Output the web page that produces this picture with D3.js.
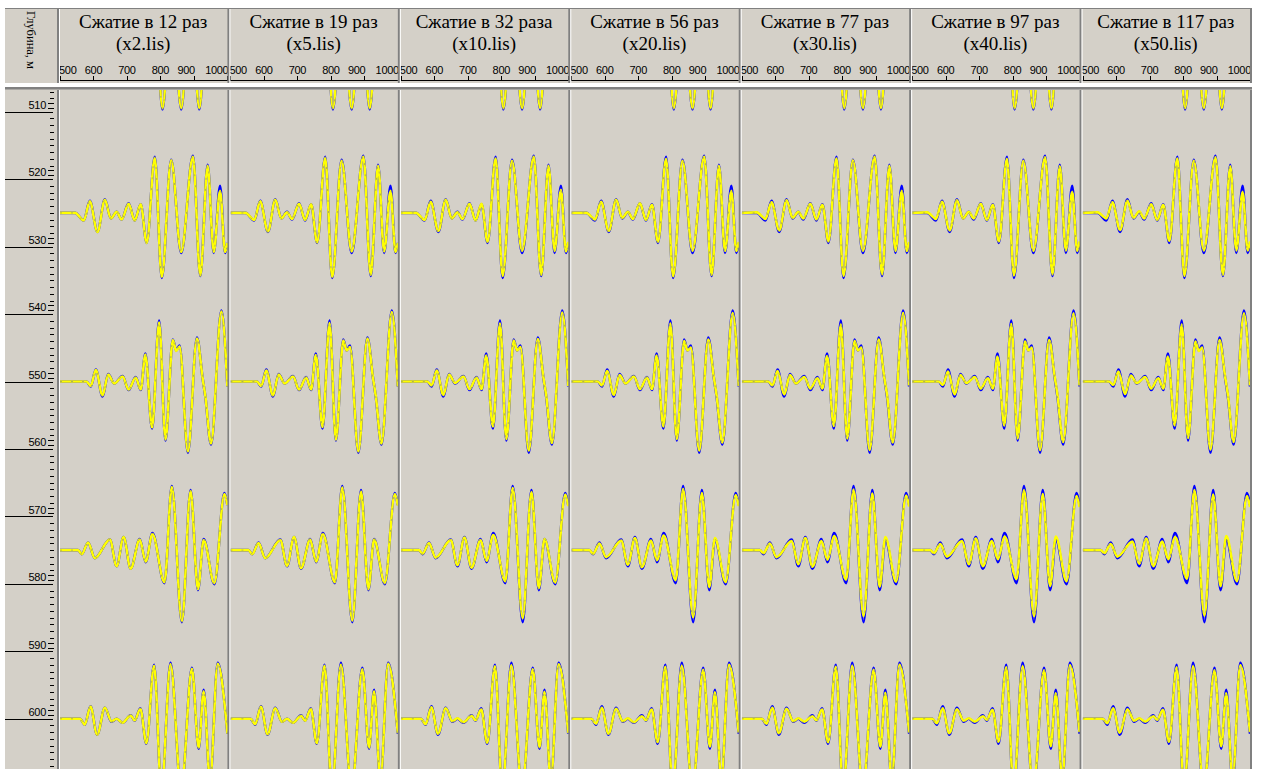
<!DOCTYPE html>
<html><head><meta charset="utf-8">
<script src="https://cdn.jsdelivr.net/npm/d3@7"></script>
<style>body{margin:0;background:#fff;} svg{display:block;}</style>
</head><body><svg id="c" width="1267" height="769"></svg>
<script>
// ---------- DATA ----------
const panelTitles = ["Сжатие в 12 раз","Сжатие в 19 раз","Сжатие в 32 раза","Сжатие в 56 раз","Сжатие в 77 раз","Сжатие в 97 раз","Сжатие в 117 раз"];
const panelFiles = ["(x2.lis)","(x5.lis)","(x10.lis)","(x20.lis)","(x30.lis)","(x40.lis)","(x50.lis)"];
const timeTicks = [500,600,700,800,900,1000];
const depthTicks = [510,520,530,540,550,560,570,580,590,600];
const depthLabel = "Глубина, м";
const traceDepths = [501,526,551,576,601];

// trace at 501 m (only its lower lobes are visible)
const times0 = [500,759,783,806,834,862,890,916,940,958,980,1000];
const blue0  = [0,-30,50,-65,55,-65,55,-65,45,-38,20,-30];
const yellow0 = [0,-30,50,-64,55,-64,55,-64,45,-38,20,-30];

// trace at 526 m
const times1 = [500,545,571,589,612,634,652,669,684,705,723,741,759,783,804,832,862,897,919,941,959,978,993,1000];
const blue1  = [0,0,-7.5,12,-19,13.5,-5.5,1,-6.5,9.5,-7.5,8.5,-30,56,-65,53,-40,57,-63,48,-40,27,-40,-30];
const yellow1 = [
 [0,0,-7.5,11.5,-19,13,-5.5,1,-6.5,9,-7.5,8.5,-30,55,-64,52.5,-39,56,-62.5,47,-39,22,-39,-30],
 [0,0,-7,11.5,-18.5,13,-5.5,0.5,-6,9,-7,8.5,-29.5,55,-64,52,-38.5,56,-62,47,-38.5,22,-39,-30],
 [0,0,-7,11,-18,13,-5.5,0.5,-6,9,-7.5,9,-29,54.5,-63,52,-38,56,-62,47,-38,23,-38.5,-29],
 [0,0,-6.5,11,-18,13,-5,1,-6,9.5,-7,8,-29,54,-63.5,52,-38,56,-62,47,-38,22,-38,-29],
 [0,0.5,-6,10.5,-17.5,12.5,-5,1,-5.5,9,-6.5,8,-28.5,54.5,-63,52.5,-38,56,-61.5,47,-38,22,-38,-29],
 [0,0.5,-6,11,-17.5,12.5,-5.5,1,-5.5,9,-7,8,-28.5,54,-62.5,52,-38,55.5,-61.5,46.5,-37.5,21,-38,-28.5],
 [0,0.5,-5.5,10.5,-17,12,-5,1.5,-5.5,8.5,-7,8,-28,54.5,-63,52,-37.5,55.5,-62,46.5,-37.5,21,-37.5,-28.5]
];

// trace at 551 m
const times2 = [500,579,592,607,627,644,662,687,705,726,741,755,775,796,815,837,847,857,882,909,926,934,951,982,1000];
const blue2  = [0,0,-5,12,-15,7.5,-2,5.5,-8.5,4.5,-8.5,28,-47,61,-59,42,31,36,-71,44,3,-15,-63,71,-5];
const yellow2 = [
 [0,0,-4.5,11.5,-14,7,-2,5,-8,4,-8,27,-46,59,-58,41.5,30.5,35,-70,43,3,-14.5,-62,70,-5],
 [0,0,-4.5,11,-14,7,-2,5,-8,4,-8,26.5,-45.5,58.5,-58,41,31,34.5,-70,43,3,-14.5,-62,69.5,-5],
 [0,0,-4,11,-13.5,7,-1.5,5,-7.5,4,-7.5,26,-45,58,-57.5,41,31,34.5,-69,42.5,3.5,-14,-61.5,69,-4.5],
 [0,0,-4,10.5,-13.5,6.5,-2,5,-7.5,4,-7.5,26,-45,58,-57.5,40.5,31,34,-69,42,3.5,-14,-61,68.5,-4.5],
 [0,0,-4,10.5,-13,6.5,-2,4.5,-7,3.5,-7,25.5,-44.5,57,-57,40.5,31,34,-68.5,42,3.5,-13.5,-61,68.5,-4],
 [0,0,-3.5,10,-13,6.5,-1.5,4.5,-7,3.5,-7,25,-44,57.5,-57,40,31,34,-68.5,41.5,4,-13.5,-60.5,68,-4],
 [0,0,-3.5,10,-12.5,6,-1.5,4.5,-7,3.5,-7,25,-44,57,-56.5,40,30.5,34,-68,41.5,4,-13.5,-60.5,68,-4]
];

// trace at 576 m
const times3 = [500,554,565,584,604,649,669,690,711,738,756,776,812,834,864,890,912,929,961,991,1000];
const blue3  = [0,0,-4,7.5,-8,10.5,-16,13,-18.5,11,-12,17,-33,64,-72,60,-40,11,-34,57,45];
const yellow3 = [
 [0,0,-4,7.5,-8,10.5,-16,13,-18.5,10.5,-11.5,16,-32,63,-71,59,-39,10,-33,56,45],
 [0,0,-4,7,-8,10,-15.5,13,-18,10.5,-11.5,16,-32,62.5,-70.5,58.5,-39,10.5,-33,56,44.5],
 [0,0,-3.5,7,-7.5,10,-15,12.5,-17.5,10,-10.5,15,-31,62,-68,58,-38,11,-32.5,55.5,44],
 [0,0,-3.5,6.5,-7,9.5,-14.5,12,-17,9.5,-10,14.5,-30,61,-67,57,-37,12,-32,55,44],
 [0,0,-3,6.5,-7,9,-14,12,-16.5,9,-9.5,14,-29.5,60.5,-66,56.5,-36.5,13,-31.5,54.5,43.5],
 [0,0,-3,6,-6.5,9,-14,11.5,-16,9,-9,13.5,-29,60,-66,56,-36,13.5,-31,54,43],
 [0,0,-3,6,-6.5,8.5,-13.5,11.5,-16,8.5,-9,13,-28.5,60,-65.5,55.5,-36,14,-31,54,43]
];

// trace at 601 m
const times4 = [500,560,574,591,611,634,654,669,687,711,723,740,758,781,803,830,862,894,914,929,948,971,1000];
const blue4  = [0,0,-6,12.5,-16,11,-3,0,-4,3.5,-2,10.5,-25,54,-72,56,-72,51,-30,29,-62,56,-15];
const yellow4 = [
 [0,0,-6,12.3,-16,11,-2.7,0,-4,3.3,-1.7,10,-24.5,53,-71,54.5,-71,50,-29,27.5,-61,55,-15],
 [0,0,-5.5,12,-15.5,10.5,-3,0,-4,3,-2,10,-24.5,53,-71,54,-71,49.5,-29,27.5,-61,55,-14.5],
 [0,0,-5.5,11.5,-15,10.5,-2.5,0.5,-3.5,3,-1.5,9.5,-24,52.5,-70,53.5,-70,49.5,-28.5,27,-60.5,54.5,-14.5],
 [0,0,-5,11,-15,10,-2.5,0.5,-3.5,2.5,-1.5,9.5,-23.5,52,-70,53,-70,49,-28,26.5,-60,54,-14],
 [0,0,-5,11,-14.5,10,-2.5,0.5,-3,2.5,-1.5,9.5,-23.5,52,-69.5,53,-69.5,49,-28,26,-60,54,-14],
 [0,0,-4.5,10.5,-14.5,9.5,-2,0.5,-3,2.5,-1,9,-23,51.5,-69,52.5,-69,48.5,-27.5,25.5,-59.5,53.5,-13.5],
 [0,0,-4.5,10.5,-14,9.5,-2,0.5,-3,2.5,-1,9,-23,51.5,-69,52.5,-69,48.5,-27.5,25.5,-59.5,53.5,-13.5]
];

// ---------- LAYOUT ----------
const W = 1267, H = 769;
const GREY = "#d4d0c8", DARK = "#808080";
const plotTop = 90, headerTop = 8;
const svg = d3.select("#c");

const traces = [
  {depth: traceDepths[0], times: times0, blue: blue0, yellow: panelTitles.map(() => yellow0)},
  {depth: traceDepths[1], times: times1, blue: blue1, yellow: yellow1},
  {depth: traceDepths[2], times: times2, blue: blue2, yellow: yellow2},
  {depth: traceDepths[3], times: times3, blue: blue3, yellow: yellow3},
  {depth: traceDepths[4], times: times4, blue: blue4, yellow: yellow4}
];

const band = d3.scaleBand().domain(d3.range(panelTitles.length)).range([58, 1251]).paddingInner(0).paddingOuter(0);
const bw = band.bandwidth();
const yScale = d3.scaleLinear().domain([510, 600]).range([105, 712]);
const ampScale = d3.scaleLinear().domain([-100, 100]).range([100, -100]);

// backgrounds
svg.append("rect").attr("width", W).attr("height", H).attr("fill", "#fff");
svg.append("rect").attr("x", 5).attr("y", headerTop).attr("width", 1252 - 5).attr("height", H - headerTop).attr("fill", GREY);
svg.append("line").attr("x1", 5).attr("x2", 1252).attr("y1", headerTop + 0.5).attr("y2", headerTop + 0.5).attr("stroke", DARK);
svg.append("rect").attr("x", 5).attr("y", 83).attr("width", 1247).attr("height", 4).attr("fill", "#fff");
svg.append("rect").attr("x", 5).attr("y", 87).attr("width", 1247).attr("height", 2.5).attr("fill", DARK);

const defs = svg.append("defs");
panelTitles.forEach((t, p) => {
  defs.append("clipPath").attr("id", "clip" + p).append("rect")
    .attr("x", band(p)).attr("y", plotTop).attr("width", bw).attr("height", H - plotTop);
});

// header panels
const head = svg.append("g");
panelTitles.forEach((t, p) => {
  const cx = band(p) + bw / 2;
  head.append("text").attr("x", cx).attr("y", 28).attr("text-anchor", "middle")
    .attr("font-family", "'Liberation Serif','Times New Roman',serif").attr("font-size", 19).attr("fill", "#000").text(t);
  head.append("text").attr("x", cx).attr("y", 50).attr("text-anchor", "middle")
    .attr("font-family", "'Liberation Serif','Times New Roman',serif").attr("font-size", 19).attr("fill", "#000").text(panelFiles[p]);
  const xs = d3.scaleLinear().domain([500, 1000]).range([band(p) + 2, band(p) + bw - 1]);
  const ax = head.append("g");
  ax.append("line").attr("x1", xs(500)).attr("x2", xs(1000)).attr("y1", 80.5).attr("y2", 80.5).attr("stroke", "#000");
  timeTicks.forEach(v => {
    ax.append("line").attr("x1", Math.round(xs(v)) + 0.5).attr("x2", Math.round(xs(v)) + 0.5)
      .attr("y1", 76).attr("y2", 81).attr("stroke", "#000");
    const anchor = v === 500 ? "start" : (v >= 900 ? "end" : "middle");
    const lx = v === 500 ? xs(v) - 1 : (v >= 900 ? xs(v) + 1 : xs(v));
    ax.append("text").attr("x", lx).attr("y", 74).attr("text-anchor", anchor)
      .attr("font-family", "'Liberation Sans',Arial,sans-serif").attr("font-size", 11)
      .attr("letter-spacing", "-0.3").attr("fill", "#000").text(v);
  });
});

const seps = band.domain().map(p => band(p)).concat([band(panelTitles.length - 1) + bw]);
seps.forEach(x => {
  svg.append("rect").attr("x", x - 1).attr("y", headerTop).attr("width", 2).attr("height", 83 - headerTop).attr("fill", DARK);
  svg.append("rect").attr("x", x + 1).attr("y", headerTop + 1).attr("width", 1).attr("height", 82 - headerTop).attr("fill", "#fff");
});

svg.append("text").attr("transform", "translate(27,40) rotate(90)").attr("text-anchor", "middle")
  .attr("font-family", "'Liberation Serif','Times New Roman',serif").attr("font-size", 12.5).attr("fill", "#000").text(depthLabel);

// left depth axis
const la = svg.append("g");
const minor = d3.range(502, 610, 1).filter(d => (d % 10) >= 2);
minor.forEach(d => {
  const y = Math.round(yScale(d)) + 0.5;
  if (y > plotTop && y < H) la.append("line").attr("x1", 50).attr("x2", 54).attr("y1", y).attr("y2", y).attr("stroke", "#000");
});
depthTicks.forEach(d => {
  const y = yScale(d);
  la.append("text").attr("x", 46).attr("y", y + 4).attr("text-anchor", "end")
    .attr("font-family", "'Liberation Sans',Arial,sans-serif").attr("font-size", 11)
    .attr("letter-spacing", "-0.3").attr("fill", "#000").text(d);
  [-2, 3].forEach(o => la.append("line").attr("x1", 48).attr("x2", 54)
    .attr("y1", Math.round(y + o) + 0.5).attr("y2", Math.round(y + o) + 0.5).attr("stroke", "#000"));
  const yl = Math.round(yScale(d + 1)) + 0.5;
  la.append("line").attr("x1", 5).attr("x2", 53).attr("y1", yl).attr("y2", yl).attr("stroke", "#000");
});

// traces
const plots = svg.append("g");
panelTitles.forEach((t, p) => {
  const xs = d3.scaleLinear().domain([500, 1000]).range([band(p) + 2, band(p) + bw - 1]);
  const g = plots.append("g").attr("clip-path", `url(#clip${p})`);
  traces.forEach(tr => {
    const base = yScale(tr.depth);
    const line = d3.line().x(d => xs(d[0])).y(d => base + ampScale(d[1])).curve(d3.curveMonotoneX);
    const bData = tr.times.map((tt, i) => [tt, tr.blue[i]]);
    const yData = tr.times.map((tt, i) => [tt, tr.yellow[p][i]]);
    g.append("path").attr("d", line(bData)).attr("fill", "none").attr("stroke", "#0000ff").attr("stroke-width", 2.6);
    g.append("path").attr("d", line(yData)).attr("fill", "none").attr("stroke", "#ffff00").attr("stroke-width", 2.6);
    g.append("path").attr("d", line(bData)).attr("fill", "none").attr("stroke", "#0000ff")
      .attr("stroke-width", 1).attr("stroke-dasharray", "2,9").attr("opacity", 0.3);
  });
});

seps.forEach(x => {
  svg.append("rect").attr("x", x - 1).attr("y", plotTop).attr("width", 2).attr("height", H - plotTop).attr("fill", DARK);
  svg.append("rect").attr("x", x + 1).attr("y", plotTop).attr("width", 1).attr("height", H - plotTop).attr("fill", "#fff");
});
svg.append("rect").attr("x", 1253).attr("y", 0).attr("width", W - 1253).attr("height", H).attr("fill", "#fff");
</script></body></html>
